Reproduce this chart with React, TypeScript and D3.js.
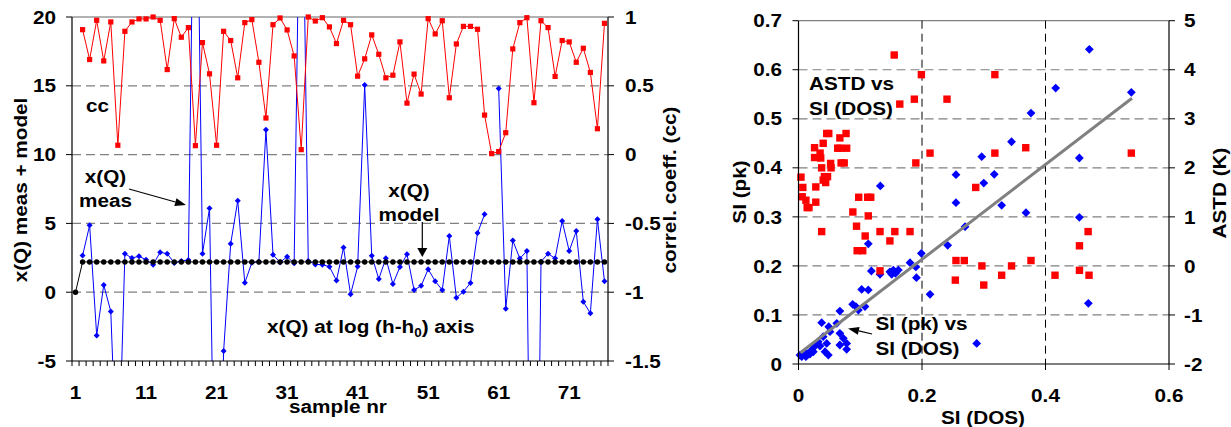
import React from "react";
import * as d3 from "d3";

// ---------- Left chart data ----------
const sampleNr: number[] = Array.from({ length: 76 }, (_, i) => i + 1);
const sampleTickLabels = [1, 11, 21, 31, 41, 51, 61, 71];
const leftYTicks = [-5, 0, 5, 10, 15, 20];
const rightYTicks = [-1.5, -1, -0.5, 0, 0.5, 1];

const ccValues: (number | null)[] = [
  null, 0.908, 0.691, 0.976, 0.681, 0.964, 0.068, 0.896, 0.964, 0.986,
  0.986, 1.0, 0.976, 0.618, 0.988, 0.853, 0.923, 0.065, 0.814, 0.587,
  0.068, 0.896, 0.829, 0.558, 0.959, 0.981, 0.671, 0.266, 0.944, 0.993,
  0.906, 0.717, 0.036, 1.0, 0.971, 0.995, 0.928, 0.807, 0.976, 0.944,
  0.57, 0.696, 0.87, 0.729, 0.558, 0.577, 0.819, 0.374, 0.585, 0.44,
  0.988, 0.877, 0.973, 0.413, 0.804, 0.932, 0.932, 0.911, 0.287, 0.007,
  0.022, 0.159, 0.768, 0.959, 0.995, 0.377, 0.973, 0.923, 0.568, 0.829,
  0.819, 0.671, 0.773, 0.597, 0.188, 0.954,
];

const xqMeas: (number | null)[] = [
  null, 2.66, 4.86, -3.14, 0.53, -1.4, -15, 2.8, 2.48, 2.62,
  2.35, 2.0, 2.9, 2.8, 2.12, 2.27, 2.34, 40, 2.8, 6.11,
  -25, -4.28, 3.52, 6.64, 0.68, 2.14, 2.22, 11.8, 2.72, 2.17,
  2.58, 2.1, 38, 2.27, 2.02, 2.0, 1.85, 0.85, 3.24, -0.15,
  1.86, 15.05, 2.65, 0.96, 2.46, 0.6, 1.84, 2.75, 0.16, 0.46,
  1.67, 0.8, 0.16, 4.08, -0.4, 0.04, 0.67, 4.3, 5.66, null,
  14.8, -1.2, 3.75, 2.45, 3.0, -40, 2.22, 2.8, 2.46, 5.17,
  2.99, 4.44, -0.69, -1.53, 5.3, 0.79,
];

const xqModel: number[] = [
  0, 2.2, 2.2, 2.2, 2.2, 2.2, 2.2, 2.2, 2.2, 2.2,
  2.2, 2.2, 2.2, 2.2, 2.2, 2.2, 2.2, 2.2, 2.2, 2.2,
  2.2, 2.2, 2.2, 2.2, 2.2, 2.2, 2.2, 2.2, 2.2, 2.2,
  2.2, 2.2, 2.2, 2.2, 2.2, 2.2, 2.2, 2.2, 2.2, 2.2,
  2.2, 2.2, 2.2, 2.2, 2.2, 2.2, 2.2, 2.2, 2.2, 2.2,
  2.2, 2.2, 2.2, 2.2, 2.2, 2.2, 2.2, 2.2, 2.2, 2.2,
  2.2, 2.2, 2.2, 2.2, 2.2, 2.2, 2.2, 2.2, 2.2, 2.2,
  2.2, 2.2, 2.2, 2.2, 2.2, 2.2,
];

// ---------- Right chart data ----------
const siTicks = [0, 0.1, 0.2, 0.3, 0.4, 0.5, 0.6, 0.7];
const astdTicks = [-2, -1, 0, 1, 2, 3, 4, 5];
const siDosTicks = [0, 0.2, 0.4, 0.6];

const blueSiDos = [
  0.1325, 0.255, 0.2967, 0.3, 0.255, 0.471, 0.4165, 0.539, 0.3765, 0.345,
  0.317, 0.4548, 0.329, 0.3684, 0.4548, 0.4694, 0.113, 0.2416, 0.2697, 0.1989,
  0.1806, 0.19, 0.191, 0.213, 0.118, 0.132, 0.148, 0.1536, 0.157, 0.1617,
  0.151, 0.1023, 0.113, 0.0877, 0.093, 0.097, 0.1077, 0.067, 0.0375, 0.049,
  0.062, 0.051, 0.067, 0.0726, 0.078, 0.067, 0.078, 0.032, 0.04, 0.0457,
  0.0267, 0.0348, 0.043, 0.0483, 0.0214, 0.0133, 0.0052, 0.0024, 0.012, 0.0186,
  0.024, 0.2886,
];
const blueSiPk = [
  0.363, 0.386, 0.4227, 0.369, 0.329, 0.6416, 0.5627, 0.554, 0.5117, 0.4532,
  0.3867, 0.42, 0.3235, 0.3085, 0.299, 0.1237, 0.245, 0.242, 0.28, 0.2257,
  0.2066, 0.198, 0.176, 0.142, 0.1896, 0.183, 0.188, 0.1916, 0.185, 0.1916,
  0.183, 0.152, 0.151, 0.1217, 0.117, 0.11, 0.117, 0.108, 0.0842, 0.076,
  0.083, 0.066, 0.0626, 0.0524, 0.042, 0.0387, 0.03, 0.0455, 0.0557, 0.042,
  0.0367, 0.0367, 0.025, 0.0183, 0.0285, 0.0218, 0.0149, 0.0183, 0.0149, 0.0204,
  0.025, 0.042,
];

const redSiDos = [
  0.155, 0.199, 0.164, 0.1876, 0.2405, 0.213, 0.19, 0.287,
  0.004, 0.007, 0.006, 0.012, 0.014, 0.017, 0.028, 0.028, 0.026, 0.026,
  0.035, 0.036, 0.04, 0.0457, 0.049, 0.0375, 0.042, 0.047, 0.044, 0.04,
  0.052, 0.0527, 0.067, 0.067, 0.077, 0.078, 0.069, 0.074, 0.0635, 0.088,
  0.0975, 0.112, 0.117, 0.113,
  0.0375, 0.094, 0.108, 0.132, 0.156, 0.1806, 0.148, 0.095, 0.104, 0.132,
  0.255, 0.2685, 0.297, 0.254, 0.3,
  0.318, 0.318, 0.368, 0.539,
  0.329, 0.345, 0.3765, 0.4154, 0.455, 0.469, 0.455, 0.4705,
];
const redAstd = [
  4.3, 3.9, 3.3, 3.4, 3.4, 2.3, 2.1, 1.6,
  1.81, 1.6, 1.41, 1.34, 1.19, 1.19, 1.3, 1.61, 2.21, 2.41,
  2.3, 2.2, 2.5, 2.7, 2.7, 2.0, 1.82, 1.82, 1.7, 1.75,
  2.09, 2.0, 2.61, 2.4, 2.7, 2.4, 2.1, 2.1, 2.4, 1.1,
  1.4, 1.4, 1.4, 1.02,
  0.7, 0.81, 0.61, 0.7, 0.7, 0.7, 0.51, 0.31, 0.31, -0.1,
  0.11, 0.11, 0.0, -0.29, -0.39,
  3.9, 2.3, 2.41, 2.3,
  -0.19, 0.0, 0.11, -0.19, 0.41, 0.7, -0.09, -0.19,
];

const fitSiDos = [0.003, 0.54];
const fitSiPk = [0.023, 0.542];

// ---------- helpers ----------
const FONT = "'Liberation Sans', Arial, Helvetica, sans-serif";
const SX = 1.12;
const GRID = "#808080";

function T(props: {
  x: number;
  y: number;
  anchor?: string;
  rotate?: number;
  size?: number;
  dy?: string;
  children?: React.ReactNode;
}) {
  const { x, y, anchor = "start", rotate = 0, size = 18.5, dy, children } = props;
  return (
    <text
      transform={`translate(${x},${y}) rotate(${rotate}) scale(${SX},1)`}
      textAnchor={anchor as any}
      fontSize={size}
      fontWeight="bold"
      fontFamily={FONT}
      fill="#000"
      dy={dy}
    >
      {children}
    </text>
  );
}

function Arrow(props: { x1: number; y1: number; x2: number; y2: number; len?: number; w?: number }) {
  const { x1, y1, x2, y2, len = 10, w = 8 } = props;
  const a = Math.atan2(y2 - y1, x2 - x1);
  const bx = x2 - len * Math.cos(a);
  const by = y2 - len * Math.sin(a);
  const px = -Math.sin(a) * (w / 2);
  const py = Math.cos(a) * (w / 2);
  return (
    <g>
      <line x1={x1} y1={y1} x2={bx} y2={by} stroke="#000" strokeWidth={1.2} />
      <path d={`M${x2},${y2}L${bx + px},${by + py}L${bx - px},${by - py}Z`} fill="#000" />
    </g>
  );
}

const diamond = (cx: number, cy: number, r: number) =>
  `M${cx},${cy - r}L${cx + r},${cy}L${cx},${cy + r}L${cx - r},${cy}Z`;

export default function App() {
  // Left chart scales
  const L = { x0: 72, x1: 608, y0: 17, y1: 361 };
  const xL = d3.scaleBand<number>().domain(sampleNr).range([L.x0, L.x1]);
  const cx = (s: number) => (xL(s) as number) + xL.bandwidth() / 2;
  const yL = d3.scaleLinear().domain([-5, 20]).range([L.y1, L.y0]);
  const yR = d3.scaleLinear().domain([-1.5, 1]).range([L.y1, L.y0]);

  const lineLeft = d3
    .line<number | null>()
    .defined((d) => d !== null)
    .x((_, i) => cx(sampleNr[i]))
    .y((d) => yL(d as number));
  const lineCc = d3
    .line<number | null>()
    .defined((d) => d !== null)
    .x((_, i) => cx(sampleNr[i]))
    .y((d) => yR(d as number));

  // Right chart scales
  const R = { x0: 798.5, x1: 1169, y0: 20.7, y1: 364 };
  const xS = d3.scaleLinear().domain([0, 0.6]).range([R.x0, R.x1]);
  const yS = d3.scaleLinear().domain([0, 0.7]).range([R.y1, R.y0]);
  const yA = d3.scaleLinear().domain([-2, 5]).range([R.y1, R.y0]);

  const bandEdges = sampleNr.map((s) => xL(s) as number).concat([L.x1]);

  return (
    <svg
      width={1231}
      height={427}
      style={{ position: "absolute", left: 0, top: 0, background: "#fff" }}
    >
      <rect x={0} y={0} width={1231} height={427} fill="#fff" />
      <defs>
        <clipPath id="clipL">
          <rect x={L.x0} y={L.y0} width={L.x1 - L.x0} height={L.y1 - L.y0} />
        </clipPath>
      </defs>

      {/* ===== LEFT CHART ===== */}
      {leftYTicks
        .filter((v) => v > -5 && v < 20)
        .map((v) => (
          <line key={"gl" + v} x1={L.x0} x2={L.x1} y1={yL(v)} y2={yL(v)} stroke={GRID} strokeWidth={1.2} strokeDasharray="9,5" />
        ))}
      <line x1={L.x0} x2={L.x1} y1={yL(20)} y2={yL(20)} stroke="#666" strokeWidth={1.2} />

      {/* blue meas */}
      <path d={lineLeft(xqMeas) || ""} fill="none" stroke="#0000ff" strokeWidth={1} clipPath="url(#clipL)" />
      {xqMeas.map((v, i) =>
        v !== null && v >= -5 && v <= 20 ? (
          <path key={"bm" + i} d={diamond(cx(sampleNr[i]), yL(v), 3)} fill="#0000ff" />
        ) : null
      )}
      {/* black model */}
      <path d={lineLeft(xqModel) || ""} fill="none" stroke="#000" strokeWidth={1} />
      {xqModel.map((v, i) => (
        <circle key={"km" + i} cx={cx(sampleNr[i])} cy={yL(v)} r={2.7} fill="#000" />
      ))}
      {/* red cc */}
      <path d={lineCc(ccValues) || ""} fill="none" stroke="#ff0000" strokeWidth={1} />
      {ccValues.map((v, i) =>
        v !== null ? (
          <rect key={"rc" + i} x={cx(sampleNr[i]) - 2.6} y={yR(v) - 2.6} width={5.2} height={5.2} fill="#ff0000" />
        ) : null
      )}

      {/* axes */}
      <line x1={L.x0} x2={L.x0} y1={L.y0} y2={L.y1} stroke="#000" strokeWidth={1.2} />
      <line x1={L.x1} x2={L.x1} y1={L.y0} y2={L.y1} stroke="#000" strokeWidth={1.2} />
      <line x1={L.x0} x2={L.x1} y1={L.y1} y2={L.y1} stroke="#000" strokeWidth={1.2} />
      {bandEdges.map((x, i) => (
        <line key={"bt" + i} x1={x} x2={x} y1={L.y1} y2={L.y1 + 5} stroke="#000" strokeWidth={1} />
      ))}
      {leftYTicks.map((v) => (
        <g key={"lt" + v}>
          <line x1={L.x0 - 6} x2={L.x0} y1={yL(v)} y2={yL(v)} stroke="#000" strokeWidth={1} />
          <T x={56} y={yL(v)} anchor="end" dy="0.36em">{String(v)}</T>
        </g>
      ))}
      {rightYTicks.map((v) => (
        <g key={"rt" + v}>
          <line x1={L.x1} x2={L.x1 + 6} y1={yR(v)} y2={yR(v)} stroke="#000" strokeWidth={1} />
          <T x={625} y={yR(v)} anchor="start" dy="0.36em">{String(v)}</T>
        </g>
      ))}
      {sampleTickLabels.map((s) => (
        <T key={"xl" + s} x={cx(s)} y={398.5} anchor="middle">{String(s)}</T>
      ))}
      <T x={338} y={412.5} anchor="middle">sample nr</T>
      <T x={27} y={190} anchor="middle" rotate={-90}>x(Q) meas + model</T>
      <T x={676} y={190} anchor="middle" rotate={-90}>correl. coeff. (cc)</T>

      {/* annotations left */}
      <T x={86} y={111.5}>cc</T>
      <T x={105.5} y={183} anchor="middle">x(Q)</T>
      <T x={105.5} y={206.5} anchor="middle">meas</T>
      <Arrow x1={129} y1={189} x2={186} y2={205} len={11} w={8} />
      <T x={409} y={196.5} anchor="middle">x(Q)</T>
      <T x={409} y={220.5} anchor="middle">model</T>
      <Arrow x1={422.3} y1={222} x2={422.3} y2={257} len={9} w={10} />
      <T x={267} y={333}>
        x(Q) at log (h-h
        <tspan dy="4" fontSize={12}>0</tspan>
        <tspan dy="-4">) axis</tspan>
      </T>

      {/* ===== RIGHT CHART ===== */}
      {siTicks
        .filter((v) => v > 0 && v < 0.7)
        .map((v) => (
          <line key={"gs" + v} x1={R.x0} x2={R.x1} y1={yS(v)} y2={yS(v)} stroke={GRID} strokeWidth={1.2} strokeDasharray="9,5" />
        ))}
      <line x1={R.x0} x2={R.x1} y1={yS(0.7)} y2={yS(0.7)} stroke={GRID} strokeWidth={1.2} />
      {siDosTicks
        .filter((v) => v > 0 && v < 0.6)
        .map((v) => (
          <line key={"gv" + v} x1={xS(v)} x2={xS(v)} y1={R.y0} y2={R.y1} stroke="#000" strokeWidth={1} strokeDasharray="8,5" />
        ))}

      {blueSiDos.map((x, i) => (
        <path key={"bd" + i} d={diamond(xS(x), yS(blueSiPk[i]), 4.4)} fill="#0000ff" />
      ))}
      <line
        x1={xS(fitSiDos[0])}
        y1={yS(fitSiPk[0])}
        x2={xS(fitSiDos[1])}
        y2={yS(fitSiPk[1])}
        stroke="#808080"
        strokeWidth={3}
      />
      {redSiDos.map((x, i) => (
        <rect key={"rs" + i} x={xS(x) - 3.7} y={yA(redAstd[i]) - 3.7} width={7.4} height={7.4} fill="#ff0000" />
      ))}

      <line x1={R.x0} x2={R.x0} y1={R.y0} y2={R.y1} stroke="#000" strokeWidth={1.2} />
      <line x1={R.x1} x2={R.x1} y1={R.y0} y2={R.y1} stroke="#000" strokeWidth={1.2} />
      <line x1={R.x0} x2={R.x1} y1={R.y1} y2={R.y1} stroke="#000" strokeWidth={1.2} />
      {siTicks.map((v) => (
        <g key={"st" + v}>
          <line x1={R.x0 - 6} x2={R.x0} y1={yS(v)} y2={yS(v)} stroke="#000" strokeWidth={1} />
          <T x={782} y={yS(v)} anchor="end" dy="0.36em">{String(v)}</T>
        </g>
      ))}
      {astdTicks.map((v) => (
        <g key={"at" + v}>
          <line x1={R.x1} x2={R.x1 + 6} y1={yA(v)} y2={yA(v)} stroke="#000" strokeWidth={1} />
          <T x={1184} y={yA(v)} anchor="start" dy="0.36em">{String(v)}</T>
        </g>
      ))}
      {siDosTicks.map((v) => (
        <g key={"dt" + v}>
          <line x1={xS(v)} x2={xS(v)} y1={R.y1} y2={R.y1 + 6} stroke="#000" strokeWidth={1} />
          <T x={xS(v)} y={402} anchor="middle">{String(v)}</T>
        </g>
      ))}
      <T x={983} y={424} anchor="middle">SI (DOS)</T>
      <T x={746} y={192} anchor="middle" rotate={-90}>SI (pk)</T>
      <T x={1226} y={193} anchor="middle" rotate={-90}>ASTD (K)</T>

      <T x={809} y={90}>ASTD vs</T>
      <T x={809} y={114.5}>SI (DOS)</T>
      <T x={875.5} y={330}>SI (pk) vs</T>
      <T x={875.5} y={355}>SI (DOS)</T>
      <Arrow x1={872} y1={334} x2={848} y2={328.5} len={11} w={8} />
    </svg>
  );
}
